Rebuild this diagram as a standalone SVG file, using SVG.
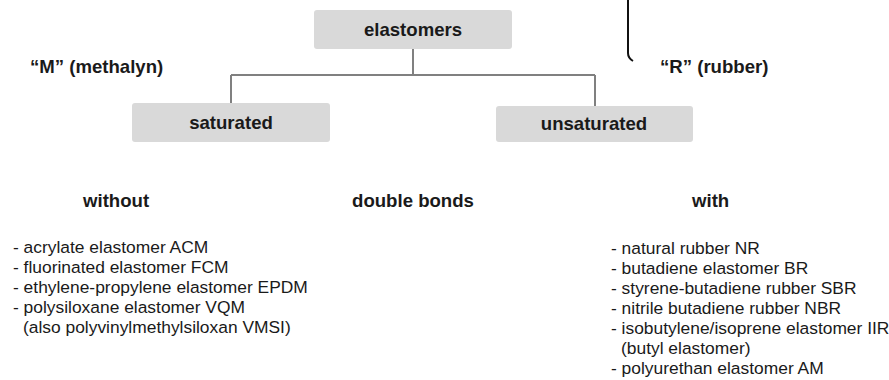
<svg xmlns="http://www.w3.org/2000/svg" width="889" height="380" viewBox="0 0 889 380">
<style>
.box{fill:#d9d9d9}
.bl{font-family:"Liberation Sans",Arial,sans-serif;font-weight:bold;font-size:18.6px;fill:#1a1a1a}
.rg{font-family:"Liberation Sans",Arial,sans-serif;font-size:17.4px;fill:#1a1a1a}
.conn{fill:none;stroke:#808080;stroke-width:2}
</style>
<rect width="889" height="380" fill="#fff"/>
<g id="connectors">
<path class="conn" d="M413 49V75M231 75H595M231 75V103M595 75V106"/>
<path d="M628 0V53Q628 58 633 61" fill="none" stroke="#111" stroke-width="2"/>
</g>
<g id="elastomers">
<rect class="box" x="314" y="10" width="198" height="39" rx="3"/>
<text class="bl" x="413" y="36" text-anchor="middle">elastomers</text>
</g>
<g id="saturated">
<rect class="box" x="132" y="103" width="198" height="39" rx="3"/>
<text class="bl" x="231" y="129" text-anchor="middle">saturated</text>
</g>
<g id="unsaturated">
<rect class="box" x="496" y="106" width="197" height="36" rx="3"/>
<text class="bl" x="594" y="130" text-anchor="middle">unsaturated</text>
</g>
<g id="labels">
<text class="bl" x="30" y="73">“M” (methalyn)</text>
<text class="bl" x="660" y="73">“R” (rubber)</text>
<text class="bl" x="83" y="207">without</text>
<text class="bl" x="413" y="207" text-anchor="middle">double bonds</text>
<text class="bl" x="692" y="207">with</text>
</g>
<g id="list-left" class="rg">
<text x="13" y="253">- acrylate elastomer ACM</text>
<text x="13" y="273">- fluorinated elastomer FCM</text>
<text x="13" y="293">- ethylene-propylene elastomer EPDM</text>
<text x="13" y="313">- polysiloxane elastomer VQM</text>
<text x="23" y="333">(also polyvinylmethylsiloxan VMSI)</text>
</g>
<g id="list-right" class="rg">
<text x="611" y="254">- natural rubber NR</text>
<text x="611" y="274">- butadiene elastomer BR</text>
<text x="611" y="294">- styrene-butadiene rubber SBR</text>
<text x="611" y="314">- nitrile butadiene rubber NBR</text>
<text x="611" y="334">- isobutylene/isoprene elastomer IIR</text>
<text x="621" y="354">(butyl elastomer)</text>
<text x="611" y="374">- polyurethan elastomer AM</text>
</g>
</svg>
